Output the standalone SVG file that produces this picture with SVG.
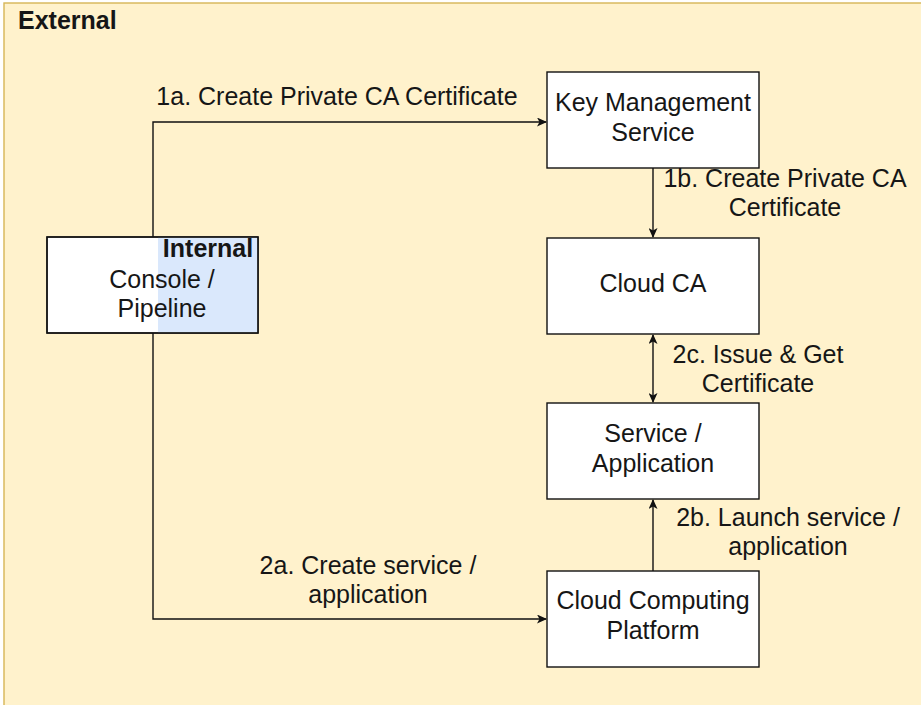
<svg xmlns="http://www.w3.org/2000/svg" width="921" height="705" viewBox="0 0 921 705">
  <style>
    .box { fill: #ffffff; stroke: #111111; stroke-width: 1.4; }
    .lbl { font-family: "Liberation Sans", Arial, Helvetica, sans-serif; font-size: 25px; fill: #161616; text-anchor: middle; }
    .bold { font-weight: bold; }
    .edge { fill: none; stroke: #111111; stroke-width: 1.4; }
  </style>
  <defs>
    <marker id="arrow" viewBox="0 0 10 10" refX="9" refY="5" markerWidth="10" markerHeight="9" markerUnits="userSpaceOnUse" orient="auto-start-reverse" preserveAspectRatio="none">
      <path d="M0,0 L10,5 L0,10 L2.5,5 Z" fill="#111111"/>
    </marker>
  </defs>

  <!-- page background -->
  <rect x="0" y="0" width="921" height="705" fill="#ffffff"/>

  <!-- External zone -->
  <g id="external">
    <rect x="4" y="3" width="940" height="720" fill="#fff2cc" stroke="#d6b656" stroke-width="1.4"/>
    <text class="lbl bold" x="18" y="29" style="text-anchor:start">External</text>
  </g>

  <!-- connectors -->
  <g id="connectors">
    <path class="edge" d="M153,237 V122 H546" marker-end="url(#arrow)"/>
    <path class="edge" d="M653,168 V237" marker-end="url(#arrow)"/>
    <path class="edge" d="M653,335 V402" marker-start="url(#arrow)" marker-end="url(#arrow)"/>
    <path class="edge" d="M653,571 V500" marker-end="url(#arrow)"/>
    <path class="edge" d="M153,333 V619 H546" marker-end="url(#arrow)"/>
  </g>

  <!-- connector labels -->
  <g id="edge-labels">
    <text class="lbl" x="337" y="105">1a. Create Private CA Certificate</text>
    <text class="lbl" x="785" y="187">1b. Create Private CA</text>
    <text class="lbl" x="785" y="216">Certificate</text>
    <text class="lbl" x="758" y="363">2c. Issue &amp; Get</text>
    <text class="lbl" x="758" y="392">Certificate</text>
    <text class="lbl" x="788" y="526">2b. Launch service /</text>
    <text class="lbl" x="788" y="555">application</text>
    <text class="lbl" x="368" y="574">2a. Create service /</text>
    <text class="lbl" x="368" y="603">application</text>
  </g>

  <!-- Console / Pipeline with Internal zone -->
  <g id="console">
    <rect class="box" x="47" y="237" width="211" height="96"/>
    <rect x="158" y="237.7" width="99.3" height="94.6" fill="#dae8fc"/>
    <rect x="47" y="237" width="211" height="96" fill="none" stroke="#111111" stroke-width="1.4"/>
    <text class="lbl bold" x="208" y="257">Internal</text>
    <text class="lbl" x="162" y="288">Console /</text>
    <text class="lbl" x="162" y="317">Pipeline</text>
  </g>

  <g id="kms">
    <rect class="box" x="547" y="72" width="212" height="96"/>
    <text class="lbl" x="653" y="111">Key Management</text>
    <text class="lbl" x="653" y="141">Service</text>
  </g>

  <g id="cloud-ca">
    <rect class="box" x="547" y="238" width="212" height="96"/>
    <text class="lbl" x="653" y="292">Cloud CA</text>
  </g>

  <g id="service">
    <rect class="box" x="547" y="403" width="212" height="96"/>
    <text class="lbl" x="653" y="442">Service /</text>
    <text class="lbl" x="653" y="472">Application</text>
  </g>

  <g id="platform">
    <rect class="box" x="547" y="571" width="212" height="96"/>
    <text class="lbl" x="653" y="609">Cloud Computing</text>
    <text class="lbl" x="653" y="639">Platform</text>
  </g>
</svg>
